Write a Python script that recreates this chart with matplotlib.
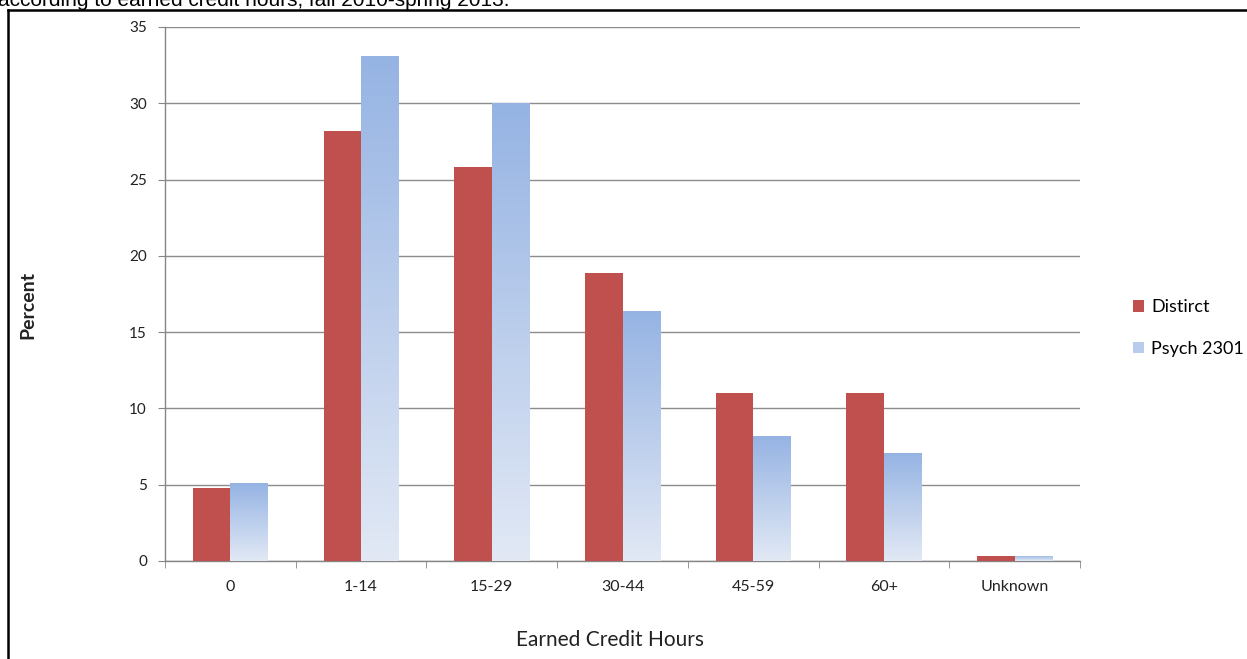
import numpy as np
import matplotlib
matplotlib.use('Agg')
import matplotlib.pyplot as plt
from matplotlib.lines import Line2D
from matplotlib.patches import Patch
from matplotlib.colors import LinearSegmentedColormap

categories = ['0', '1-14', '15-29', '30-44', '45-59', '60+', 'Unknown']
district = [4.8, 28.2, 25.8, 18.9, 11.0, 11.0, 0.35]
psych = [5.1, 33.1, 30.0, 16.4, 8.2, 7.1, 0.35]
yticks = [0, 5, 10, 15, 20, 25, 30, 35]

plt.rcParams['font.family'] = ['Lato', 'DejaVu Sans']

W, H = 1247, 659
fig = plt.figure(figsize=(W / 100, H / 100), dpi=100)
ax = fig.add_axes([165 / W, 1 - 561 / H, (1080 - 165) / W, (561 - 27) / H])

x = np.arange(len(categories))
bw = 0.287
red = '#C0504D'
ax.bar(x - bw / 2, district, bw, color=red, zorder=3)

# psych bars with vertical gradient
grad = LinearSegmentedColormap.from_list('g', ['#E2E9F5', '#95B3E3'])
pbars = ax.bar(x + bw / 2, psych, bw, color='none', zorder=3)
img = np.linspace(0, 1, 256).reshape(-1, 1)
for b in pbars:
    x0 = b.get_x()
    h = b.get_height()
    im = ax.imshow(img, cmap=grad, origin='lower', aspect='auto',
                   extent=(x0, x0 + bw, 0, h), zorder=3)
    im.set_clip_path(b)

ax.set_xlim(-0.5, len(categories) - 0.5)
ax.set_ylim(0, 35)
ax.set_yticks(yticks)
ax.set_xticks(x)
ax.set_xticklabels(categories)
ax.set_xticks(np.arange(len(categories) + 1) - 0.5, minor=True)
ax.tick_params(axis='x', which='major', length=0, pad=14, labelsize=11.5, labelcolor='#222222')
ax.tick_params(axis='x', which='minor', length=5, color='#868686', direction='out')
ax.tick_params(axis='y', length=5, color='#868686', labelsize=11, pad=8, labelcolor='#222222')
ax.grid(axis='y', color='#8C8C8C', linewidth=1, zorder=0)
for s in ['top', 'right']:
    ax.spines[s].set_visible(False)
for s in ['left', 'bottom']:
    ax.spines[s].set_color('#868686')
    ax.spines[s].set_linewidth(1)

fig.text(28 / W, 1 - 305 / H, 'Percent', rotation=90, ha='center', va='center',
         fontsize=14, fontweight='bold', color='#222222')
fig.text(610 / W, 1 - 640 / H, 'Earned Credit Hours', ha='center', va='center',
         fontsize=15, color='#222222')

handles = [Patch(facecolor=red), Patch(facecolor='#BACCEC')]
fig.legend(handles, ['Distirct', 'Psych 2301'], loc='center left',
           bbox_to_anchor=(1117 / W, 1 - 328 / H), frameon=False, fontsize=13,
           handlelength=0.6, handleheight=0.6, handletextpad=0.4, labelspacing=1.4)

# partial caption cut off at the top
fig.text(-2 / W, 1 - 5.5 / H, 'according to earned credit hours, fall 2010-spring 2013.',
         ha='left', va='baseline', fontsize=15, family='Liberation Sans', color='black')

fig.add_artist(Line2D([8 / W, 1], [1 - 10 / H, 1 - 10 / H], color='black', linewidth=1.8,
                      transform=fig.transFigure))
fig.add_artist(Line2D([8 / W, 8 / W], [0, 1 - 10 / H], color='black', linewidth=1.8,
                      transform=fig.transFigure))

fig.savefig('out.png', dpi=100)
